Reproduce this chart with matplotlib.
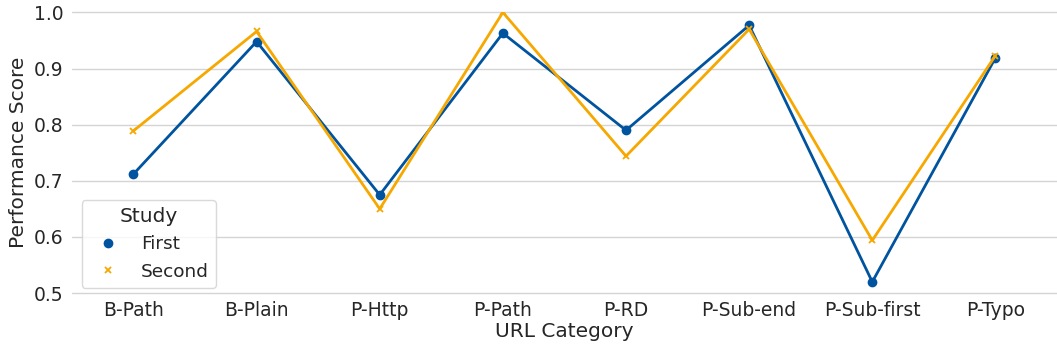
import matplotlib
matplotlib.use("Agg")
import matplotlib.pyplot as plt
import seaborn as sns
from matplotlib.lines import Line2D

# performance per URL category for the two studies
categories = ["B-Path", "B-Plain", "P-Http", "P-Path", "P-RD", "P-Sub-end", "P-Sub-first", "P-Typo"]
first_scores = [0.712, 0.948, 0.675, 0.963, 0.790, 0.977, 0.520, 0.919]
second_scores = [0.789, 0.966, 0.650, 1.000, 0.744, 0.970, 0.594, 0.923]

BLUE = "#00549f"
ORANGE = "#f6a800"

sns.set_theme(style="whitegrid")
plt.rcParams["font.family"] = ["DejaVu Sans"]

fig, ax = plt.subplots(figsize=(10.57, 3.54), dpi=100)
fig.subplots_adjust(left=0.068, right=1.0, top=0.965, bottom=0.172)

x = range(len(categories))
ax.plot(x, first_scores, color=BLUE, lw=2, marker="o", ms=6, zorder=3)
ax.plot(x, second_scores, color=ORANGE, lw=2, marker="x", ms=5, mew=1.3, zorder=3)

ax.set_xticks(list(x))
ax.set_xticklabels(categories)
ax.set_xlim(-0.5, 7.5)
ax.set_ylim(0.5, 1.0)
ax.set_yticks([0.5, 0.6, 0.7, 0.8, 0.9, 1.0])
ax.grid(axis="x", visible=False)
ax.grid(axis="y", color="#d4d4d4", lw=1)
for gl in ax.get_ygridlines():
    gl.set_clip_on(False)
for s in ax.spines.values():
    s.set_visible(False)
ax.tick_params(axis="both", labelsize=13.5, colors="#262626", length=0, pad=6)
ax.set_xlabel("URL Category", fontsize=14.5, color="#262626", labelpad=1)
ax.set_ylabel("Performance Score", fontsize=14.5, color="#262626")

handles = [
    Line2D([], [], color=BLUE, marker="o", ls="none", ms=6),
    Line2D([], [], color=ORANGE, marker="x", ls="none", ms=5, mew=1.3),
]
leg = ax.legend(handles, ["First", "Second"], title="Study", loc="lower left",
                bbox_to_anchor=(0.01, 0.018), borderaxespad=0,
                fontsize=13.3, title_fontsize=14.5, handletextpad=0.8)
leg.get_frame().set_edgecolor("#d0d0d0")

fig.savefig("out.png", dpi=100)
